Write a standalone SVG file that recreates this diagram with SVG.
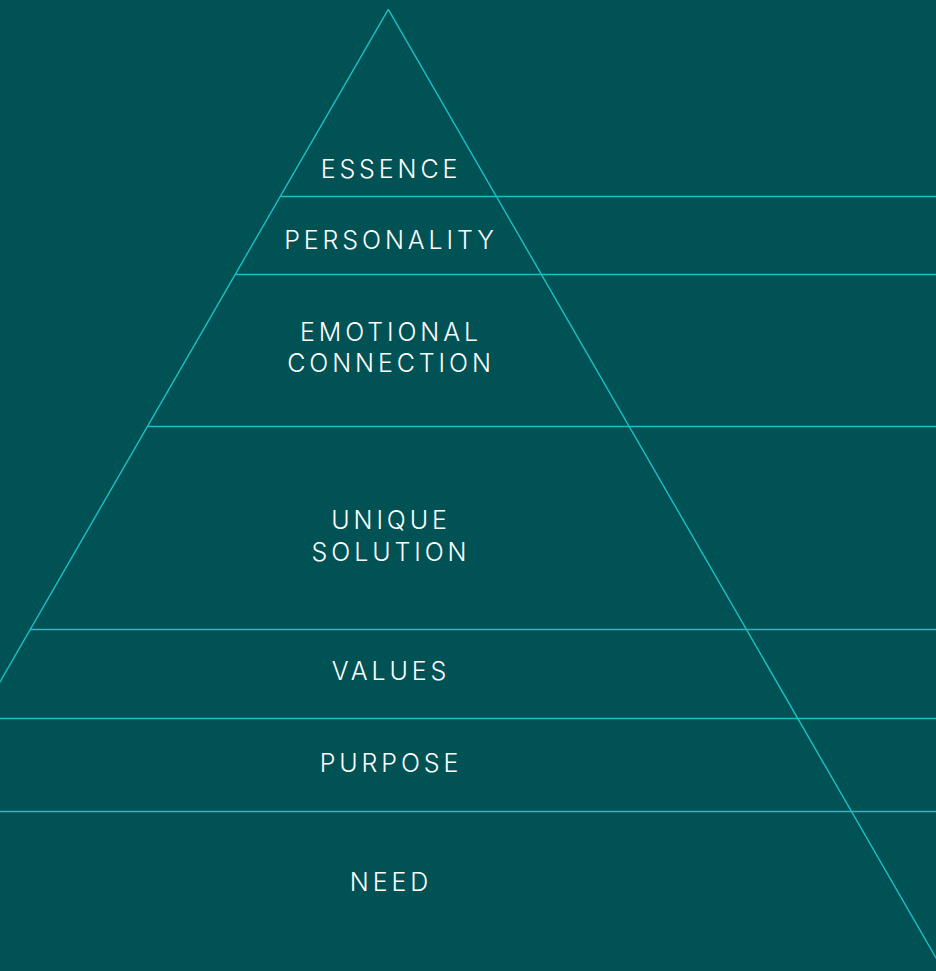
<svg xmlns="http://www.w3.org/2000/svg" width="936" height="971" viewBox="0 0 936 971">
  <style>
    .edge { stroke: #1DC0C4; stroke-width: 1.4; fill: none; }
    .tier { stroke: #1DC0C4; stroke-width: 1.6; fill: none; }
    .label { font-family: Inter, "Liberation Sans", sans-serif; font-size: 25px; font-weight: 300; letter-spacing: 3.9px; fill: #FFFFFF; text-anchor: middle; }
  </style>
  <rect width="936" height="971" fill="#005254"/>

  <!-- pyramid outline and tier dividers -->
  <g id="connectors">
    <line class="edge" x1="388.3" y1="9.3" x2="-5" y2="690.5"/>
    <line class="edge" x1="388.3" y1="9.3" x2="941" y2="966.5"/>
    <line class="tier" x1="280.5" y1="196.5" x2="936" y2="196.5"/>
    <line class="tier" x1="235.5" y1="274.5" x2="936" y2="274.5"/>
    <line class="tier" x1="147.7" y1="426.5" x2="936" y2="426.5"/>
    <line class="tier" x1="30.5" y1="629.5" x2="936" y2="629.5"/>
    <line class="tier" x1="0" y1="718.5" x2="936" y2="718.5"/>
    <line class="tier" x1="0" y1="811.5" x2="936" y2="811.5"/>
  </g>

  <g id="essence"><text class="label" x="391" y="178">ESSENCE</text></g>
  <g id="personality"><text class="label" x="391" y="249">PERSONALITY</text></g>
  <g id="emotional-connection">
    <text class="label" x="391" y="340.5">EMOTIONAL</text>
    <text class="label" x="391" y="372">CONNECTION</text>
  </g>
  <g id="unique-solution">
    <text class="label" x="391" y="529">UNIQUE</text>
    <text class="label" x="391" y="561">SOLUTION</text>
  </g>
  <g id="values"><text class="label" x="391" y="680">VALUES</text></g>
  <g id="purpose"><text class="label" x="391" y="771.5">PURPOSE</text></g>
  <g id="need"><text class="label" x="391" y="890.5">NEED</text></g>
</svg>
